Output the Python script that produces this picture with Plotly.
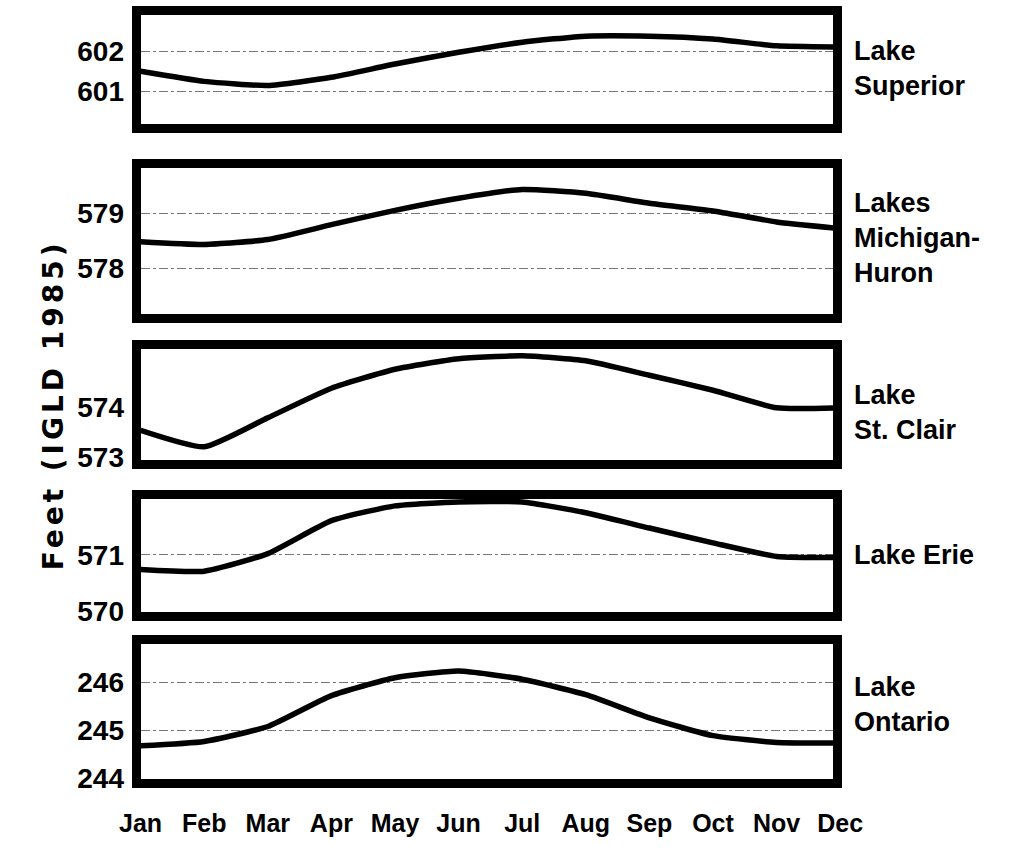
import plotly.graph_objects as go

months = ["Jan", "Feb", "Mar", "Apr", "May", "Jun", "Jul", "Aug", "Sep", "Oct", "Nov", "Dec"]
month_idx = list(range(12))

superior = [601.50, 601.25, 601.15, 601.35, 601.68, 601.97, 602.22, 602.37, 602.37, 602.30, 602.13, 602.10]
mich_huron = [578.48, 578.43, 578.52, 578.79, 579.05, 579.27, 579.43, 579.36, 579.18, 579.04, 578.84, 578.72]
st_clair = [573.53, 573.20, 573.78, 574.37, 574.75, 574.96, 575.02, 574.92, 574.63, 574.33, 573.98, 573.98]
erie = [570.74, 570.71, 571.02, 571.60, 571.86, 571.93, 571.93, 571.74, 571.47, 571.21, 570.97, 570.95]
ontario = [244.68, 244.77, 245.08, 245.72, 246.09, 246.23, 246.06, 245.74, 245.26, 244.89, 244.75, 244.74]

series = [superior, mich_huron, st_clair, erie, ontario]
lake_labels = ["Lake<br>Superior", "Lakes<br>Michigan-<br>Huron", "Lake<br>St. Clair", "Lake Erie", "Lake<br>Ontario"]
y_ticks = [[601, 602], [578, 579], [573, 574], [570, 571], [244, 245, 246]]
y_ranges = [[600.2, 602.9], [577.16, 579.82], [572.94, 575.16], [569.99, 571.98], [243.99, 246.8]]
show_grid = [True, True, False, True, True]

W, H = 1032, 855
# inner plot regions in pixels (top, bottom)
panels_px = [(15, 126), (171, 320), (355, 468), (508, 623), (655, 793)]
x_left, x_right = 124, 848
px_per_month = 66.5
label_y_px = [70, 242, 420, 565, 717]

FONT = "Liberation Sans"

fig = go.Figure()
for i, vals in enumerate(series):
    n = i + 1
    xa = "x" if n == 1 else f"x{n}"
    ya = "y" if n == 1 else f"y{n}"
    fig.add_trace(go.Scatter(x=month_idx, y=vals, mode="lines",
                             line=dict(color="black", width=5.5, shape="spline", smoothing=0.5),
                             xaxis=xa, yaxis=ya, showlegend=False, hoverinfo="skip"))
    top, bot = panels_px[i]
    dom_y = [1 - bot / H, 1 - top / H]
    xkey = "xaxis" if n == 1 else f"xaxis{n}"
    ykey = "yaxis" if n == 1 else f"yaxis{n}"
    fig.layout[xkey] = dict(domain=[x_left / W, x_right / W],
                            range=[0, (x_right - x_left) / px_per_month],
                            anchor=ya, showticklabels=False, ticks="", showgrid=False,
                            zeroline=False, showline=True, mirror=True,
                            linewidth=9, linecolor="black")
    fig.layout[ykey] = dict(domain=dom_y, range=y_ranges[i], anchor=xa,
                            tickvals=y_ticks[i], ticks="", ticklabelstandoff=2,
                            tickfont=dict(family=FONT, size=28, color="black", weight="bold"),
                            showgrid=show_grid[i], gridcolor="#777777", griddash="dashdot",
                            gridwidth=1, zeroline=False, showline=True, mirror=True,
                            linewidth=9, linecolor="black")
    fig.add_annotation(text=lake_labels[i], xref="paper", yref="paper",
                       x=868 / W, y=1 - label_y_px[i] / H, xanchor="left", yanchor="middle",
                       align="left", showarrow=False,
                       font=dict(family=FONT, size=27, color="black", weight="bold"))

# month axis: same scale as the panels, extended so that Dec gets its label
fig.add_trace(go.Scatter(x=month_idx, y=[None] * 12, mode="lines", xaxis="x6", yaxis="y6",
                         showlegend=False, hoverinfo="skip"))
fig.layout["xaxis6"] = dict(domain=[x_left / W, (x_left + 11 * px_per_month) / W],
                            range=[0, 11], anchor="y6", tickvals=month_idx, ticktext=months,
                            ticks="", showgrid=False, zeroline=False, showline=False,
                            tickfont=dict(family=FONT, size=25, color="black", weight="bold"),
                            ticklabelstandoff=0)
fig.layout["yaxis6"] = dict(domain=[1 - 820 / H, 1 - 818 / H], anchor="x6", visible=False,
                            range=[0, 1])

fig.add_annotation(text='<span style="letter-spacing:4px">Feet (IGLD 1985)</span>',
                   xref="paper", yref="paper",
                   x=33 / W, y=1 - 412 / H, textangle=-90, xanchor="center", yanchor="middle",
                   showarrow=False, font=dict(family="DejaVu Sans", size=28, color="black", weight="bold"))

fig.update_layout(width=W, height=H, margin=dict(l=0, r=0, t=0, b=0),
                  paper_bgcolor="white", plot_bgcolor="white")

fig.write_html("out.html", config={"displayModeBar": False},
               post_script="document.body.style.margin='0';")
